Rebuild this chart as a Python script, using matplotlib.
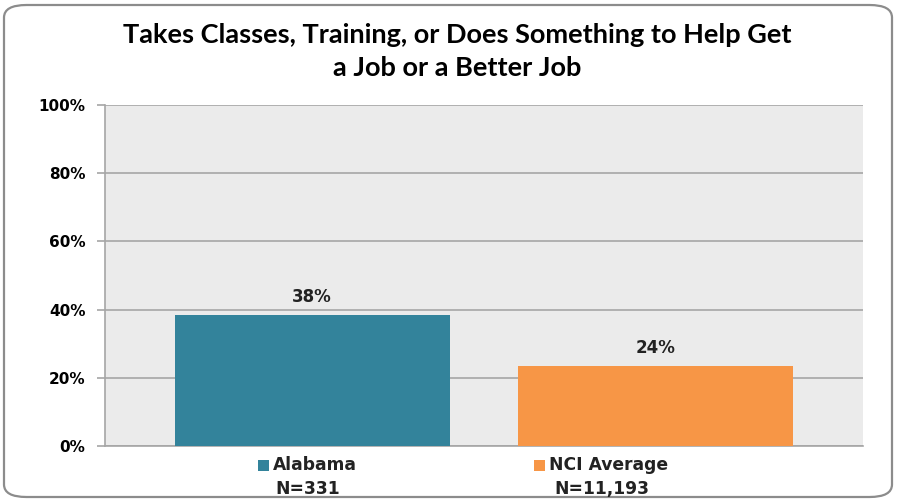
import matplotlib
matplotlib.use("Agg")
import matplotlib.pyplot as plt
from matplotlib.patches import FancyBboxPatch, Rectangle

# data
groups = ["Alabama", "NCI Average"]
sizes = ["N=331", "N=11,193"]
values = [38.4, 23.5]
value_labels = ["38%", "24%"]
colors = ["#33839B", "#F79646"]
yticks = [0, 20, 40, 60, 80, 100]

fig = plt.figure(figsize=[9.02, 5.01], dpi=100)
fig.patch.set_facecolor("white")

# rounded outer frame
frame = FancyBboxPatch((4 / 902, 4 / 501), 888 / 902, 492 / 501,
                       boxstyle="round,pad=0,rounding_size=0.025",
                       transform=fig.transFigure, facecolor="white",
                       edgecolor="#8C8C8C", linewidth=1.6, zorder=-10)
fig.patches.append(frame)

ax = fig.add_axes([105 / 902, 1 - 446 / 501, 758 / 902, 341 / 501])
ax.set_facecolor("#EBEBEB")

xs = list(range(len(values)))
ax.bar(xs, values, width=0.8, color=colors, zorder=3)
for x, v, lab in zip(xs, values, value_labels):
    ax.text(x, v + 2.6, lab, ha="center", va="bottom", fontsize=12,
            fontweight="bold", family="DejaVu Sans", color="#222222")

ax.set_ylim(0, 100)
ax.set_xlim(-0.603, 1.603)
ax.set_yticks(yticks)
ax.set_yticklabels(["%d%%" % t for t in yticks], fontsize=11,
                   fontweight="bold", family="DejaVu Sans")
ax.set_xticks([])
ax.yaxis.grid(True, color="#A6A6A6", linewidth=1.2, zorder=0)
ax.set_axisbelow(True)
ax.tick_params(axis="y", length=6, color="#A6A6A6", width=1.2, pad=8)
for s in ["top", "right"]:
    ax.spines[s].set_visible(False)
ax.spines["left"].set_color("#A6A6A6")
ax.spines["bottom"].set_color("#A6A6A6")
ax.spines["left"].set_linewidth(1.2)
ax.spines["bottom"].set_linewidth(1.2)

# title
fig.text(457 / 902, 1 - 35 / 501, "Takes Classes, Training, or Does Something to Help Get",
         ha="center", va="center", fontsize=19.5, fontweight="bold", family="Lato")
fig.text(457 / 902, 1 - 68 / 501, "a Job or a Better Job",
         ha="center", va="center", fontsize=19.5, fontweight="bold", family="Lato")

# legend-like labels under the axis
leg_x = [258, 534]
for lx, g, n, c in zip(leg_x, groups, sizes, colors):
    fig.patches.append(Rectangle((lx / 902, 1 - 471 / 501), 11 / 902, 11 / 501,
                                 transform=fig.transFigure, facecolor=c, edgecolor="none"))
    fig.text((lx + 15) / 902, 1 - 465 / 501, g, ha="left", va="center",
             fontsize=12.3, fontweight="bold", family="DejaVu Sans", color="#222222")
    w = 97 if g == "Alabama" else 134
    fig.text((lx + w / 2 + 1) / 902, 1 - 489 / 501, n, ha="center", va="center",
             fontsize=12.3, fontweight="bold", family="DejaVu Sans", color="#222222")

fig.savefig("out.png", dpi=100)
